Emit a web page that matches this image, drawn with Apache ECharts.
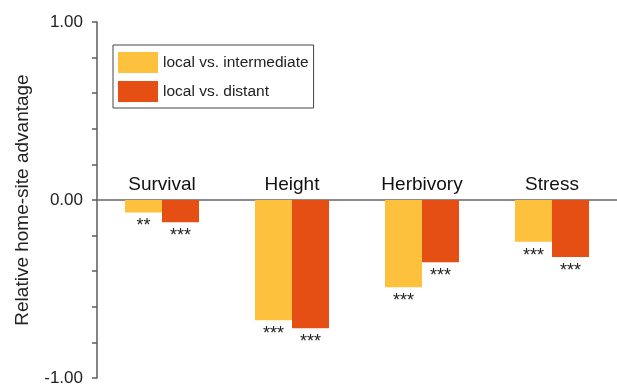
<!DOCTYPE html>
<html>
<head>
<meta charset="utf-8">
<script src="https://cdn.jsdelivr.net/npm/echarts@6/dist/echarts.min.js"></script>
<style>
  html, body { margin: 0; padding: 0; background: #fff; }
  #chart { width: 617px; height: 389px; }
</style>
</head>
<body>
<div id="chart"></div>
<script>
// Traits measured and the home-site advantage for each contrast
const categories = ['Survival', 'Height', 'Herbivory', 'Stress'];
const localVsIntermediate = [-0.07, -0.675, -0.49, -0.235];
const localVsDistant = [-0.125, -0.72, -0.35, -0.32];
// Significance marks shown under each bar
const sigIntermediate = ['**', '***', '***', '***'];
const sigDistant = ['***', '***', '***', '***'];
const seriesNames = ['local vs. intermediate', 'local vs. distant'];

const FONT = 'Liberation Sans, Arial, sans-serif';
const GRID_TOP = 22;
const GRID_HEIGHT = 356;
const Y_MIN = -1;
const Y_MAX = 1;
// distance from the top of the plot down to the zero line
const zeroOffset = GRID_HEIGHT * Y_MAX / (Y_MAX - Y_MIN);

const chart = echarts.init(document.getElementById('chart'));

function starLabel(marks) {
  return {
    show: true,
    position: 'bottom',
    distance: 5,
    color: '#222',
    fontFamily: FONT,
    fontSize: 18,
    formatter: p => marks[p.dataIndex]
  };
}

chart.setOption({
  animation: false,
  backgroundColor: '#fff',
  grid: { left: 97, top: GRID_TOP, width: 524, height: GRID_HEIGHT },
  legend: {
    orient: 'vertical',
    left: 113,
    top: 45,
    padding: [7, 5, 6, 5],
    itemWidth: 40,
    itemHeight: 21,
    itemGap: 8,
    borderColor: '#444',
    borderWidth: 1,
    icon: 'rect',
    textStyle: { fontFamily: FONT, fontSize: 15.5, color: '#222' },
    data: seriesNames
  },
  xAxis: [
    {
      // zero line
      type: 'category',
      data: categories,
      axisLine: { onZero: true, lineStyle: { color: '#666', width: 1.5 } },
      axisTick: { show: false },
      axisLabel: { show: false }
    },
    {
      // trait names sitting just above the zero line
      type: 'category',
      data: categories,
      position: 'top',
      offset: -zeroOffset,
      axisLine: { show: false },
      axisTick: { show: false },
      axisLabel: {
        margin: 6,
        color: '#111',
        fontFamily: FONT,
        fontSize: 19
      }
    }
  ],
  yAxis: {
    type: 'value',
    min: Y_MIN,
    max: Y_MAX,
    interval: 0.2,
    name: 'Relative home-site advantage',
    nameLocation: 'middle',
    nameGap: 65,
    nameTextStyle: { fontFamily: FONT, fontSize: 19, color: '#222' },
    axisLine: { show: true, lineStyle: { color: '#5c5c5c', width: 1.5 } },
    axisTick: { show: true, length: 5, lineStyle: { color: '#5c5c5c', width: 1.5 } },
    splitLine: { show: false },
    axisLabel: {
      margin: 14,
      color: '#222',
      fontFamily: FONT,
      fontSize: 17,
      formatter: v => (Math.abs(v - Math.round(v)) < 1e-9 ? Math.round(v).toFixed(2) : '')
    }
  },
  series: [
    {
      name: seriesNames[0],
      type: 'bar',
      xAxisIndex: 0,
      data: localVsIntermediate,
      barWidth: 37,
      barGap: '0%',
      itemStyle: { color: '#FDC13D' },
      label: starLabel(sigIntermediate)
    },
    {
      name: seriesNames[1],
      type: 'bar',
      xAxisIndex: 0,
      data: localVsDistant,
      barWidth: 37,
      itemStyle: { color: '#E64F13' },
      label: starLabel(sigDistant)
    }
  ]
});
</script>
</body>
</html>
